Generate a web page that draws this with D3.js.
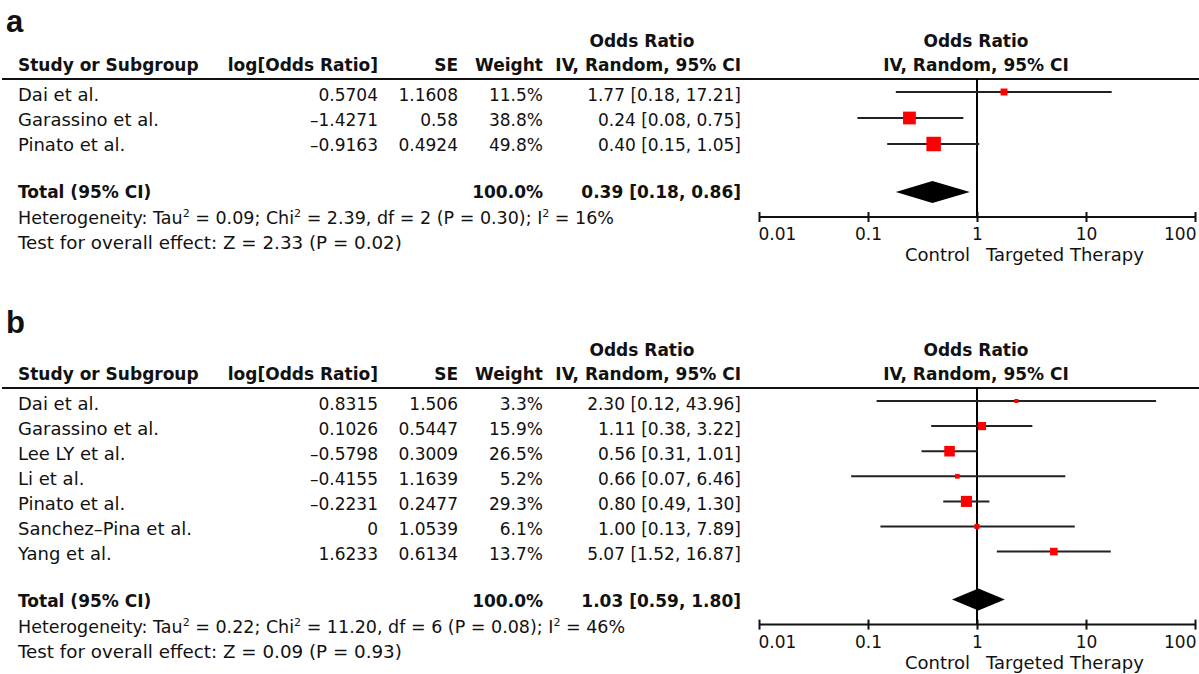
<!DOCTYPE html>
<html>
<head>
<meta charset="utf-8">
<script src="https://cdn.jsdelivr.net/npm/d3@7"></script>
<style>
  body { margin: 0; background: #fff; }
  svg { display: block; font-family: "DejaVu Sans", sans-serif; }
  text { fill: #111; }
</style>
</head>
<body>
<div id="chart"></div>
<script>
// Panel a data
const studiesA = ["Dai et al.", "Garassino et al.", "Pinato et al."];
const logOrA = [0.5704, -1.4271, -0.9163];
const seA = [1.1608, 0.58, 0.4924];
const weightA = [11.5, 38.8, 49.8];
const orA = [1.77, 0.24, 0.40];
const lowerA = [0.18, 0.08, 0.15];
const upperA = [17.21, 0.75, 1.05];
const totalA = [0.39, 0.18, 0.86];
const totalWeightA = 100.0;
const hetA = ["Heterogeneity: Tau", "2", " = 0.09; Chi", "2", " = 2.39, df = 2 (P = 0.30); I", "2", " = 16%"];
const testA = "Test for overall effect: Z = 2.33 (P = 0.02)";

// Panel b data
const studiesB = ["Dai et al.", "Garassino et al.", "Lee LY et al.", "Li et al.",
                  "Pinato et al.", "Sanchez\u2013Pina et al.", "Yang et al."];
const logOrB = [0.8315, 0.1026, -0.5798, -0.4155, -0.2231, 0, 1.6233];
const seB = [1.506, 0.5447, 0.3009, 1.1639, 0.2477, 1.0539, 0.6134];
const weightB = [3.3, 15.9, 26.5, 5.2, 29.3, 6.1, 13.7];
const orB = [2.30, 1.11, 0.56, 0.66, 0.80, 1.00, 5.07];
const lowerB = [0.12, 0.38, 0.31, 0.07, 0.49, 0.13, 1.52];
const upperB = [43.96, 3.22, 1.01, 6.46, 1.30, 7.89, 16.87];
const totalB = [1.03, 0.59, 1.80];
const totalWeightB = 100.0;
const hetB = ["Heterogeneity: Tau", "2", " = 0.22; Chi", "2", " = 11.20, df = 6 (P = 0.08); I", "2", " = 46%"];
const testB = "Test for overall effect: Z = 0.09 (P = 0.93)";

// Axis
const tickValues = [0.01, 0.1, 1, 10, 100];
const tickLabels = ["0.01", "0.1", "1", "10", "100"];

const width = 1199, height = 674;

const svg = d3.select("#chart").append("svg")
    .attr("width", width)
    .attr("height", height);

// Shared scales
const xScale = d3.scaleLog()
    .domain([0.01, 100])
    .range([759, 1195]);

const sizeScale = d3.scaleSqrt()
    .domain([0, 100])
    .range([0, 20.5]);

// Column right edges
const col = { study: 18, logOr: 378, se: 458, weight: 543, ci: 741 };

const fmtNum = v => String(v).replace("-", "\u2013");
const fmtCi = (o, l, u) => o.toFixed(2) + " [" + l.toFixed(2) + ", " + u.toFixed(2) + "]";

drawPanel(svg.append("g"), {
  label: "a", labelY: 32, top: 0, plotRowStep: 26,
  studies: studiesA, logOr: logOrA, se: seA, weight: weightA,
  or: orA, lower: lowerA, upper: upperA, total: totalA, totalWeight: totalWeightA,
  het: hetA, test: testA
});

drawPanel(svg.append("g"), {
  label: "b", labelY: 24, top: 309, plotRowStep: 25.1,
  studies: studiesB, logOr: logOrB, se: seB, weight: weightB,
  or: orB, lower: lowerB, upper: upperB, total: totalB, totalWeight: totalWeightB,
  het: hetB, test: testB
});

function drawPanel(g, p) {
  const n = p.studies.length;
  g.attr("transform", "translate(0," + p.top + ")");

  // Vertical positions
  const headerLine = 79,
        rowY = d3.scaleLinear().domain([0, 1]).range([101, 126]),
        totalY = rowY(n - 1) + 47,
        plotY = d3.scaleLinear().domain([0, 1]).range([92, 92 + p.plotRowStep]),
        diamondY = plotY(n - 1) + 48,
        axisY = diamondY + 25;

  // Panel letter
  g.append("text")
      .attr("x", 6)
      .attr("y", p.labelY)
      .style("font-family", "'Liberation Sans', Arial, sans-serif")
      .style("font-size", "31px")
      .style("font-weight", "bold")
      .text(p.label);

  // Headers
  const header = g.append("g")
      .style("font-size", "17px")
      .style("font-weight", "bold");

  header.append("text").attr("x", col.study).attr("y", 71).text("Study or Subgroup");
  header.append("text").attr("x", col.logOr).attr("y", 71).attr("text-anchor", "end").text("log[Odds Ratio]");
  header.append("text").attr("x", col.se).attr("y", 71).attr("text-anchor", "end").text("SE");
  header.append("text").attr("x", col.weight).attr("y", 71).attr("text-anchor", "end").text("Weight");
  header.append("text").attr("x", col.ci).attr("y", 71).attr("text-anchor", "end").text("IV, Random, 95% CI");
  header.append("text").attr("x", 642).attr("y", 47).attr("text-anchor", "middle").text("Odds Ratio");
  header.append("text").attr("x", xScale(1) - 1).attr("y", 47).attr("text-anchor", "middle").text("Odds Ratio");
  header.append("text").attr("x", xScale(1) - 1).attr("y", 71).attr("text-anchor", "middle").text("IV, Random, 95% CI");

  g.append("line")
      .attr("x1", 2).attr("x2", width)
      .attr("y1", headerLine).attr("y2", headerLine)
      .style("stroke", "#111")
      .style("stroke-width", 2);

  // Study rows
  const rows = g.selectAll(".row")
      .data(d3.range(n))
    .enter().append("g")
      .attr("class", "row")
      .style("font-size", "17px");

  rows.append("text").attr("x", col.study).attr("y", i => rowY(i)).style("font-size", "18px").text(i => p.studies[i]);
  rows.append("text").attr("x", col.logOr).attr("y", i => rowY(i)).attr("text-anchor", "end").text(i => fmtNum(p.logOr[i]));
  rows.append("text").attr("x", col.se).attr("y", i => rowY(i)).attr("text-anchor", "end").text(i => fmtNum(p.se[i]));
  rows.append("text").attr("x", col.weight).attr("y", i => rowY(i)).attr("text-anchor", "end").text(i => p.weight[i].toFixed(1) + "%");
  rows.append("text").attr("x", col.ci).attr("y", i => rowY(i)).attr("text-anchor", "end")
      .text(i => fmtCi(p.or[i], p.lower[i], p.upper[i]));

  // Total row
  const total = g.append("g")
      .style("font-size", "17px")
      .style("font-weight", "bold");
  total.append("text").attr("x", col.study).attr("y", totalY).text("Total (95% CI)");
  total.append("text").attr("x", col.weight).attr("y", totalY).attr("text-anchor", "end")
      .text(p.totalWeight.toFixed(1) + "%");
  total.append("text").attr("x", col.ci).attr("y", totalY).attr("text-anchor", "end")
      .text(fmtCi(p.total[0], p.total[1], p.total[2]));

  // Heterogeneity with superscripts
  const het = g.append("text")
      .attr("x", col.study)
      .attr("y", totalY + 26)
      .style("font-size", "17.5px");
  het.selectAll("tspan")
      .data(p.het)
    .enter().append("tspan")
      .style("font-size", (d, i) => i % 2 ? "11px" : null)
      .attr("dy", (d, i) => i === 0 ? 0 : i % 2 ? -7 : 7)
      .text(d => d);

  g.append("text").attr("x", col.study).attr("y", totalY + 51).style("font-size", "18.3px").text(p.test);

  // Forest plot
  const plot = g.append("g").attr("class", "plot");

  plot.append("line")
      .attr("x1", xScale(1)).attr("x2", xScale(1))
      .attr("y1", headerLine).attr("y2", axisY)
      .style("stroke", "#000")
      .style("stroke-width", 2);

  plot.selectAll(".ci")
      .data(d3.range(n))
    .enter().append("line")
      .attr("class", "ci")
      .attr("x1", i => xScale(p.lower[i]))
      .attr("x2", i => xScale(p.upper[i]))
      .attr("y1", i => plotY(i))
      .attr("y2", i => plotY(i))
      .style("stroke", "#222")
      .style("stroke-width", 2);

  const side = i => Math.max(sizeScale(p.weight[i]), 4);

  plot.selectAll(".marker")
      .data(d3.range(n))
    .enter().append("rect")
      .attr("class", "marker")
      .attr("x", i => xScale(p.or[i]) - side(i) / 2)
      .attr("y", i => plotY(i) - side(i) / 2)
      .attr("width", side)
      .attr("height", side)
      .style("fill", "#f00");

  plot.append("polygon")
      .attr("points", [
        [xScale(p.total[1]), diamondY],
        [xScale(p.total[0]), diamondY - 11],
        [xScale(p.total[2]), diamondY],
        [xScale(p.total[0]), diamondY + 11]
      ].map(d => d.join(",")).join(" "))
      .style("fill", "#000");

  // Axis
  const xAxis = d3.axisBottom(xScale)
      .tickValues(tickValues)
      .tickFormat((d, i) => tickLabels[i])
      .tickSizeOuter(0);

  const gX = plot.append("g")
      .attr("transform", "translate(0," + axisY + ")")
      .call(xAxis);

  gX.select(".domain")
      .attr("d", "M" + xScale.range()[0] + ",0H" + xScale.range()[1])
      .style("stroke", "#111")
      .style("stroke-width", 2);

  gX.selectAll(".tick line")
      .attr("y1", -5)
      .attr("y2", 5)
      .style("stroke", "#111")
      .style("stroke-width", 2);

  gX.selectAll(".tick text")
      .attr("y", 23)
      .attr("dy", 0)
      .attr("text-anchor", (d, i) => i === 0 ? "start" : i === tickValues.length - 1 ? "end" : "middle")
      .attr("dx", (d, i) => i === 0 ? -1 : i === tickValues.length - 1 ? 1 : 0)
      .style("font-family", "'DejaVu Sans', sans-serif")
      .style("font-size", "17px")
      .style("fill", "#111");

  plot.append("text")
      .attr("x", xScale(1) - 7)
      .attr("y", axisY + 44)
      .attr("text-anchor", "end")
      .style("font-size", "18px")
      .text("Control");

  plot.append("text")
      .attr("x", xScale(1) + 9)
      .attr("y", axisY + 44)
      .style("font-size", "18px")
      .text("Targeted Therapy");
}
</script>
</body>
</html>
